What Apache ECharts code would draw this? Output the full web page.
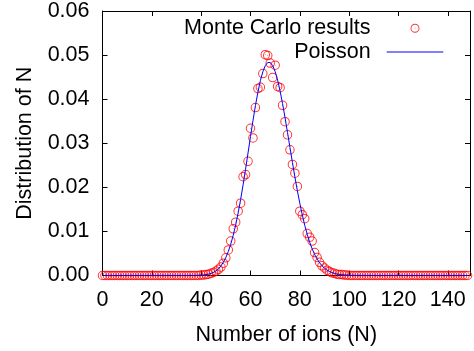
<!DOCTYPE html>
<html><head><meta charset="utf-8">
<script src="https://cdn.jsdelivr.net/npm/echarts@6/dist/echarts.min.js"></script>
<style>html,body{margin:0;padding:0;background:#fff}#c{width:474px;height:351px}</style>
</head><body><div id="c"></div>
<script>
// N runs from N_START, one value per integer N
const N_START = 0;
const seriesNames = ['Monte Carlo results', 'Poisson'];
const xTicks = [0, 20, 40, 60, 80, 100, 120, 140];
const yTicks = ['0.00', '0.01', '0.02', '0.03', '0.04', '0.05', '0.06'];

// Monte Carlo histogram, N = 0 .. 148
const monteCarlo = [
  0,0,0,0,0,0,0,0,0,0, 0,0,0,0,0,0,0,0,0,0,
  0,0,0,0,0,0,0,0,0,0, 0,0,0,0,0,0,0,0,0,0,
  0.0001,0.0001,0.0002,0.0003,0.0005,0.0007,0.0010,0.0014,0.0019,0.0028,
  0.0040,0.0058,0.0078,0.0106,0.0121,0.0146,0.0164,0.0224,0.0229,0.0259,
  0.0334,0.0312,0.0381,0.0424,0.0427,0.0458,0.0501,0.0499,0.0482,0.0449,
  0.0477,0.0429,0.0426,0.0386,0.0349,0.0319,0.0285,0.0252,0.0232,0.0202,
  0.0146,0.0138,0.0129,0.0095,0.0087,0.0078,0.0052,0.0041,0.0030,0.0022,
  0.0017,0.0012,0.0009,0.0006,0.0005,0.0003,0.0002,0.0002,0.0001,0.0001,
  0,0,0,0,0,0,0,0,0,0, 0,0,0,0,0,0,0,0,0,0,
  0,0,0,0,0,0,0,0,0,0, 0,0,0,0,0,0,0,0,0,0,
  0,0,0,0,0,0,0,0,0
];

// Poisson curve, N = 0 .. 148
const poisson = [
  0,0,0,0,0,0,0,0,0,0, 0,0,0,0,0,0,0,0,0,0,
  0,0,0,0,0,0,0,0,0,0, 0,0,0,0,0,
  0.0000039,0.0000073,0.0000135,0.0000242,0.0000422,
  0.0000718,0.000119,0.000193,0.000305,0.000471,0.000712,0.00105,0.00153,0.00216,0.00300,
  0.00408,0.00543,0.00711,0.00912,0.01148,0.01420,0.01724,0.02056,0.02411,0.02779,
  0.03150,0.03511,0.03851,0.04157,0.04417,0.04621,0.04761,0.04832,0.04832,0.04762,
  0.04626,0.04431,0.04185,0.03898,0.03582,0.03248,0.02906,0.02566,0.02237,0.01926,
  0.01637,0.01374,0.01139,0.00933,0.00755,0.00604,0.00478,0.00373,0.00289,0.00221,
  0.00167,0.00125,0.000922,0.000674,0.000488,0.000349,0.000247,0.000173,0.000120,0.0000826,
  0.0000562,0.0000378,0.0000252,0.0000166,0.0000108,0.000007,
  0,0,0,0, 0,0,0,0,0,0,0,0,0,0, 0,0,0,0,0,0,0,0,0,0,
  0,0,0,0,0,0,0,0,0,0, 0,0,0,0,0,0,0,0,0
];

const FONT = 'Liberation Sans';
const FS = 21.5;
const BLACK = '#000';
const RED = '#ff0000';
const BLUE = '#0000ff';
const ring = 'path://M10,0A10,10,0,1,1,10,20A10,10,0,1,1,10,0ZM10,2.1A7.9,7.9,0,1,0,10,17.9A7.9,7.9,0,1,0,10,2.1ZM10,9A1,1,0,1,1,10,11A1,1,0,1,1,10,9Z';

const mcData = monteCarlo.map((v, i) => [N_START + i, v]);
const poData = poisson.map((v, i) => [N_START + i, v]);

const txt = {fontFamily: FONT, fontSize: FS, color: BLACK};
const frameLine = {show: true, onZero: false, lineStyle: {color: BLACK, width: 1}};
const tick = {show: true, inside: true, length: 5, lineStyle: {color: BLACK, width: 1}};

function legendText(gap) {
  return Object.assign({rich: {t: {fontFamily: FONT, fontSize: FS, color: BLACK, padding: [0, gap, 0, 0]}}}, txt);
}

const chart = echarts.init(document.getElementById('c'), null, {renderer: 'canvas'});
chart.setOption({
  animation: false,
  backgroundColor: '#fff',
  grid: {left: 102.5, right: 4, top: 10.7, bottom: 72.7, containLabel: false},
  legend: [
    {data: [{name: seriesNames[0], icon: ring, itemStyle: {color: RED}}], align: 'right', orient: 'horizontal',
     right: 54.5, top: 17.2, padding: 0, itemWidth: 9, itemHeight: 9,
     formatter: n => '{t|' + n + '}', textStyle: legendText(35)},
    {data: [{name: seriesNames[1], icon: 'rect', itemStyle: {color: BLUE}}], align: 'right', orient: 'horizontal',
     right: 30.7, top: 41, padding: 0, itemWidth: 56.6, itemHeight: 1.2,
     formatter: n => '{t|' + n + '}', textStyle: legendText(11)}
  ],
  xAxis: [
    {type: 'value', position: 'bottom', min: 0, max: 149, interval: 20,
     axisLine: frameLine, axisTick: tick, splitLine: {show: false},
     axisLabel: Object.assign({margin: 14, showMaxLabel: false,
       formatter: v => (xTicks.indexOf(v) >= 0 ? String(v) : '')}, txt),
     name: 'Number of ions (N)', nameLocation: 'middle', nameGap: 48.5, nameTextStyle: txt},
    {type: 'value', position: 'top', min: 0, max: 149, interval: 20,
     axisLine: frameLine, axisTick: tick, splitLine: {show: false}, axisLabel: {show: false}}
  ],
  yAxis: [
    {type: 'value', position: 'left', min: 0, max: 0.06, interval: 0.01,
     axisLine: frameLine, axisTick: tick, splitLine: {show: false},
     axisLabel: Object.assign({margin: 13, formatter: v => yTicks[Math.round(v / 0.01)]}, txt),
     name: 'Distribution of N', nameLocation: 'middle', nameGap: 66.5, nameRotate: 90, nameTextStyle: txt},
    {type: 'value', position: 'right', min: 0, max: 0.06, interval: 0.01,
     axisLine: frameLine, axisTick: tick, splitLine: {show: false}, axisLabel: {show: false}}
  ],
  series: [
    {name: seriesNames[0], type: 'scatter', data: mcData, symbol: ring, symbolSize: 9.5,
     itemStyle: {color: RED}, clip: false, z: 2},
    {name: seriesNames[1], type: 'line', data: poData, showSymbol: false, symbol: 'none',
     lineStyle: {color: BLUE, width: 1}, itemStyle: {color: BLUE}, clip: false, z: 3}
  ]
});
</script></body></html>
